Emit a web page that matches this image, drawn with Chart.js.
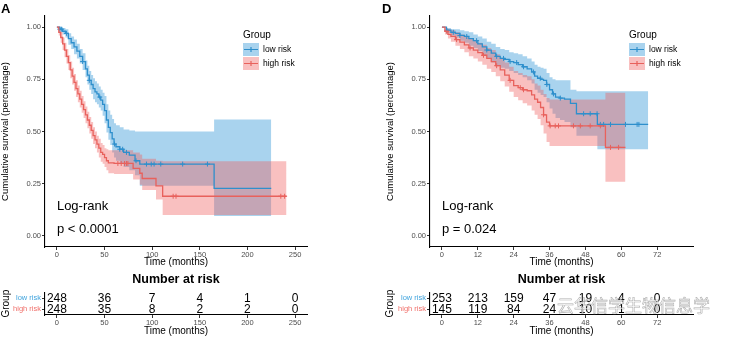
<!DOCTYPE html>
<html>
<head>
<meta charset="utf-8">
<script src="https://cdn.jsdelivr.net/npm/chart.js@4.4.0/dist/chart.umd.min.js"></script>
<style>
body { margin: 0; background: #fff; }
#wrap { position: relative; width: 739px; height: 339px; overflow: hidden; font-family: "Liberation Sans", Arial, sans-serif; }
canvas { position: absolute; }
.tag { position: absolute; font-weight: bold; font-size: 13px; line-height: 13px; }
#wm { position: absolute; left: 557px; top: 295px; font-family: "Noto Sans CJK SC", sans-serif; font-size: 17px; line-height: 20px;
      color: rgba(255,255,255,0.7); -webkit-text-stroke: 0.6px rgba(120,120,120,0.6); white-space: nowrap; }
</style>
</head>
<body>
<div id="wrap">
  <canvas id="kmA" width="370" height="270" style="left:0;top:0"></canvas>
  <canvas id="riskA" width="370" height="69" style="left:0;top:270px"></canvas>
  <canvas id="kmD" width="369" height="270" style="left:370px;top:0"></canvas>
  <canvas id="riskD" width="369" height="69" style="left:370px;top:270px"></canvas>
  <div class="tag" style="left:1px;top:2px">A</div>
  <div class="tag" style="left:382px;top:2px">D</div>
  <div id="wm">云华信学生物信息学</div>
</div>
<script>
const groups = ['low risk', 'high risk'];

// panel A, low risk
const aLowTime = [0, 3, 6, 9, 12, 15, 18, 21, 24, 27, 30, 32, 34, 36, 38, 40, 42, 44, 46, 48, 50, 52, 54, 56, 58, 60, 62, 66, 70, 76, 82, 87, 165, 225];
const aLowSurv = [1, .99, .98, .97, .945, .925, .905, .885, .86, .835, .80, .77, .745, .725, .705, .69, .68, .665, .65, .63, .60, .555, .52, .495, .465, .44, .427, .415, .40, .387, .36, .344, .228, .228];
const aLowUpper = [1, 1, .995, .99, .97, .955, .94, .92, .895, .875, .84, .815, .79, .77, .755, .74, .73, .715, .70, .685, .67, .63, .60, .58, .56, .54, .53, .52, .51, .505, .50, .50, .557, .557];
const aLowLower = [1, .975, .965, .95, .915, .895, .87, .85, .825, .795, .76, .725, .70, .68, .655, .64, .63, .615, .60, .575, .54, .495, .46, .435, .40, .375, .36, .345, .33, .315, .29, .24, .095, .095];
const aLowCensor = [3, 5, 10, 27, 34, 45, 60.5, 66, 69, 73, 83, 94, 99, 102, 109, 132, 158];

// panel A, high risk
const aHighTime = [0, 2, 4, 6, 8, 10, 12, 14, 16, 18, 20, 22, 24, 26, 28, 30, 32, 34, 36, 38, 40, 42, 44, 46, 48, 50, 52, 54, 60, 78, 80, 87, 89.5, 104, 111, 241];
const aHighSurv = [1, .975, .95, .92, .89, .86, .83, .795, .765, .735, .705, .68, .655, .63, .605, .58, .555, .53, .505, .48, .46, .44, .42, .40, .39, .375, .36, .35, .347, .347, .323, .30, .275, .24, .19, .19];
const aHighUpper = [1, .99, .975, .95, .925, .895, .865, .835, .805, .775, .745, .72, .695, .67, .645, .62, .595, .57, .545, .52, .50, .48, .465, .445, .435, .42, .415, .41, .41, .41, .40, .39, .37, .36, .358, .358];
const aHighLower = [1, .96, .925, .89, .855, .825, .795, .755, .725, .695, .665, .64, .615, .59, .565, .54, .515, .49, .465, .44, .42, .40, .375, .355, .345, .33, .315, .30, .297, .297, .27, .245, .22, .175, .10, .10];
const aHighCensor = [64, 67.5, 71, 73, 74.5, 122, 125, 235, 239];

// panel D, low risk
const dLowTime = [0, 1.5, 3, 4.5, 6, 7.5, 9, 10.5, 12, 13.5, 15, 16.5, 18, 19.5, 21, 22.5, 24, 25.5, 27, 28.5, 30, 31, 32, 33, 34, 35, 36, 37, 38, 39.5, 41, 43, 45, 52, 69];
const dLowSurv = [1, .985, .975, .97, .96, .955, .945, .935, .92, .905, .89, .875, .86, .85, .845, .835, .83, .82, .81, .80, .785, .765, .755, .75, .745, .725, .70, .68, .665, .66, .655, .635, .585, .534, .534];
const dLowUpper = [1, .995, .99, .99, .985, .98, .975, .965, .955, .945, .93, .92, .905, .895, .89, .88, .875, .87, .86, .85, .835, .82, .81, .805, .80, .78, .76, .75, .745, .745, .745, .70, .693, .693, .693];
const dLowLower = [1, .97, .96, .95, .935, .925, .91, .90, .885, .865, .85, .83, .815, .805, .80, .79, .78, .77, .76, .745, .73, .70, .685, .675, .665, .64, .61, .585, .565, .555, .545, .52, .48, .415, .415];
const dLowCensor = [1.6, 3.8, 6, 8.3, 11.6, 15, 18.3, 20.6, 22.8, 25, 27.3, 30.6, 32.9, 35.1, 37.3, 39.6, 47.4, 49.6, 51.9, 53, 54.1, 56.4, 61.4, 65.3, 65.9];

// panel D, high risk
const dHighTime = [0, 1, 2, 3, 4.5, 6, 7.5, 9, 10.5, 12, 13.5, 15, 16.5, 18, 19.5, 21, 22.5, 24, 25.5, 27, 28.5, 30, 31, 32, 33, 34, 35, 36, 54.7, 61.4];
const dHighSurv = [1, .98, .965, .955, .94, .928, .915, .90, .89, .878, .865, .85, .835, .815, .795, .77, .745, .72, .71, .70, .695, .675, .655, .64, .615, .58, .545, .527, .424, .424];
const dHighUpper = [1, .995, .99, .985, .975, .965, .955, .945, .935, .925, .915, .90, .89, .87, .85, .83, .81, .79, .78, .77, .765, .75, .73, .72, .70, .68, .66, .653, .685, .685];
const dHighLower = [1, .965, .945, .93, .91, .895, .88, .86, .85, .835, .82, .80, .785, .765, .74, .715, .69, .665, .65, .635, .625, .60, .58, .56, .53, .49, .45, .43, .26, .26];
const dHighCensor = [1.6, 4.9, 9.4, 13.9, 18.3, 22.8, 26.2, 27.3, 34, 36.2, 37.9, 39, 44, 46.3, 49.6, 53, 56.4, 59.1];

// number at risk
const aRiskTime = [0, 50, 100, 150, 200, 250];
const aRiskLow = [248, 36, 7, 4, 1, 0];
const aRiskHigh = [248, 35, 8, 2, 2, 0];
const dRiskTime = [0, 12, 24, 36, 48, 60, 72];
const dRiskLow = [253, 213, 159, 47, 19, 4, 0];
const dRiskHigh = [145, 119, 84, 24, 10, 1, 0];

const survTicks = [0, 0.25, 0.5, 0.75, 1];
const aPval = 'p < 0.0001';
const dPval = 'p = 0.024';

const lineColor = ['#2e8fcc', '#e8615c'];
const bandColor = ['rgba(50,150,215,0.42)', 'rgba(240,90,90,0.38)'];
const labelColor = ['#3fa3dd', '#f0706b'];
const FONT = '"Liberation Sans", Arial, sans-serif';

Chart.defaults.font.family = FONT;
Chart.defaults.animation = false;

function survAt(times, surv, t) {
  let v = surv[0];
  for (let i = 0; i < times.length; i++) {
    if (times[i] <= t) v = surv[i];
  }
  return v;
}

function pts(t, v) {
  return t.map((x, i) => ({ x: x, y: v[i] }));
}

function xAxis(p, h) {
  return {
    type: 'linear', min: p.xMin, max: p.xMax,
    afterBuildTicks: s => { s.ticks = p.xTicks.map(v => ({ value: v })); },
    afterFit: s => { s.height = h; },
    ticks: { font: { size: 7.5 }, color: '#4d4d4d', padding: 0, maxRotation: 0, autoSkip: false },
    grid: { drawOnChartArea: false, drawTicks: true, tickLength: 3, color: '#333' },
    border: { display: true, color: '#000', width: 1.1 },
    title: { display: true, text: 'Time (months)', font: { size: 10 }, color: '#000', padding: { top: 0, bottom: 2 } }
  };
}

function kmChart(id, p) {
  const g = [p.low, p.high];
  const lineSet = i => ({
    data: pts(g[i].time, g[i].surv), borderColor: lineColor[i], borderWidth: 1.3,
    stepped: 'before', pointRadius: 0, fill: false
  });
  const censorSet = i => ({
    data: g[i].censor.map(c => ({ x: c, y: survAt(g[i].time, g[i].surv, c) })),
    showLine: false, pointStyle: 'cross', pointRadius: 2.5, pointBorderWidth: 1,
    pointBorderColor: lineColor[i], borderColor: lineColor[i]
  });
  const upperSet = i => ({
    data: pts(g[i].time, g[i].upper), borderWidth: 0, borderColor: 'rgba(0,0,0,0)',
    stepped: 'before', pointRadius: 0, fill: '+1', backgroundColor: bandColor[i]
  });
  const lowerSet = i => ({
    data: pts(g[i].time, g[i].lower), borderWidth: 0, borderColor: 'rgba(0,0,0,0)',
    stepped: 'before', pointRadius: 0, fill: false
  });

  new Chart(document.getElementById(id), {
    type: 'line',
    data: {
      datasets: [lineSet(1), lineSet(0), censorSet(1), censorSet(0),
                 upperSet(1), lowerSet(1), upperSet(0), lowerSet(0)]
    },
    options: {
      responsive: false,
      events: [],
      layout: { padding: { left: p.padLeft, right: p.padRight, top: 16, bottom: 0 } },
      scales: {
        x: xAxis(p, 23),
        y: {
          type: 'linear', min: -0.053, max: 1.053,
          afterBuildTicks: s => { s.ticks = survTicks.map(v => ({ value: v })); },
          afterFit: s => { s.width = 45; },
          ticks: { font: { size: 7.5 }, color: '#4d4d4d', padding: 1, callback: v => v.toFixed(2) },
          grid: { drawOnChartArea: false, drawTicks: true, tickLength: 3, color: '#333' },
          border: { display: true, color: '#000', width: 1.1 },
          title: { display: true, text: 'Cumulative survival (percentage)', font: { size: 9.5 }, color: '#000', padding: 0 }
        }
      },
      plugins: { legend: { display: false }, tooltip: { enabled: false } }
    },
    plugins: [{
      id: 'kmDeco',
      afterDraw(chart) {
        const ctx = chart.ctx, a = chart.chartArea;
        const xs = chart.scales.x, ys = chart.scales.y;
        ctx.save();
        ctx.fillStyle = '#000';
        ctx.textAlign = 'left';
        ctx.textBaseline = 'middle';
        ctx.font = '13px ' + FONT;
        ctx.fillText('Log-rank', xs.getPixelForValue(0), ys.getPixelForValue(0.139));
        ctx.fillText(p.pval, xs.getPixelForValue(0), ys.getPixelForValue(0.033));

        const lx = a.right - 64;
        ctx.font = '10px ' + FONT;
        ctx.fillText('Group', lx, 35);
        groups.forEach((name, i) => {
          const ky = 43 + i * 14;
          ctx.fillStyle = bandColor[i];
          ctx.fillRect(lx, ky, 16, 13);
          ctx.strokeStyle = lineColor[i];
          ctx.lineWidth = 1.2;
          ctx.beginPath();
          ctx.moveTo(lx + 1, ky + 6.5);
          ctx.lineTo(lx + 15, ky + 6.5);
          ctx.moveTo(lx + 8, ky + 4);
          ctx.lineTo(lx + 8, ky + 9);
          ctx.stroke();
          ctx.fillStyle = '#000';
          ctx.font = '8.5px ' + FONT;
          ctx.fillText(name, lx + 20, ky + 7);
        });
        ctx.restore();
      }
    }]
  });
}

function riskChart(id, p) {
  const rows = [p.low, p.high];
  new Chart(document.getElementById(id), {
    type: 'line',
    data: {
      datasets: rows.map((vals, i) => ({
        data: p.time.map(t => ({ x: t, y: groups[i] })),
        values: vals, showLine: false, pointRadius: 0
      }))
    },
    options: {
      responsive: false,
      events: [],
      layout: { padding: { left: p.padLeft, right: p.padRight, top: 0, bottom: 0 } },
      scales: {
        x: xAxis(p, 24),
        y: {
          type: 'category', labels: groups, offset: true,
          afterFit: s => { s.width = p.riskYWidth; },
          ticks: { font: { size: 7.5 }, color: c => labelColor[c.index], padding: 1, autoSkip: false },
          grid: { drawOnChartArea: false, drawTicks: true, tickLength: 3, color: '#333' },
          border: { display: true, color: '#000', width: 1.1 },
          title: { display: true, text: 'Group', font: { size: 10 }, color: '#000', padding: 0 }
        }
      },
      plugins: {
        legend: { display: false },
        tooltip: { enabled: false },
        title: {
          display: true, text: 'Number at risk', fullSize: false, color: '#000',
          font: { size: 12.5, weight: 'bold' }, padding: { top: 2, bottom: 5.4 }
        }
      }
    },
    plugins: [{
      id: 'riskNums',
      afterDatasetsDraw(chart) {
        const ctx = chart.ctx;
        ctx.save();
        ctx.fillStyle = '#000';
        ctx.font = '12px ' + FONT;
        ctx.textAlign = 'center';
        ctx.textBaseline = 'middle';
        chart.data.datasets.forEach((ds, di) => {
          chart.getDatasetMeta(di).data.forEach((pt, i) => {
            ctx.fillText(String(ds.values[i]), pt.x, pt.y + 0.5);
          });
        });
        ctx.restore();
      }
    }]
  });
}

const panelA = {
  low: { time: aLowTime, surv: aLowSurv, upper: aLowUpper, lower: aLowLower, censor: aLowCensor },
  high: { time: aHighTime, surv: aHighSurv, upper: aHighUpper, lower: aHighLower, censor: aHighCensor },
  xMin: -12.5, xMax: 262.5, xTicks: aRiskTime, pval: aPval, padLeft: 0, padRight: 63
};
const panelD = {
  low: { time: dLowTime, surv: dLowSurv, upper: dLowUpper, lower: dLowLower, censor: dLowCensor },
  high: { time: dHighTime, surv: dHighSurv, upper: dHighUpper, lower: dHighLower, censor: dHighCensor },
  xMin: -4, xMax: 84, xTicks: dRiskTime, pval: dPval, padLeft: 15, padRight: 46
};

kmChart('kmA', panelA);
kmChart('kmD', panelD);
riskChart('riskA', { time: aRiskTime, low: aRiskLow, high: aRiskHigh, xMin: -12.5, xMax: 262.5, xTicks: aRiskTime, padLeft: 0, padRight: 63, riskYWidth: 45 });
riskChart('riskD', { time: dRiskTime, low: dRiskLow, high: dRiskHigh, xMin: -4, xMax: 84, xTicks: dRiskTime, padLeft: 14, padRight: 46, riskYWidth: 46 });
</script>
</body>
</html>
